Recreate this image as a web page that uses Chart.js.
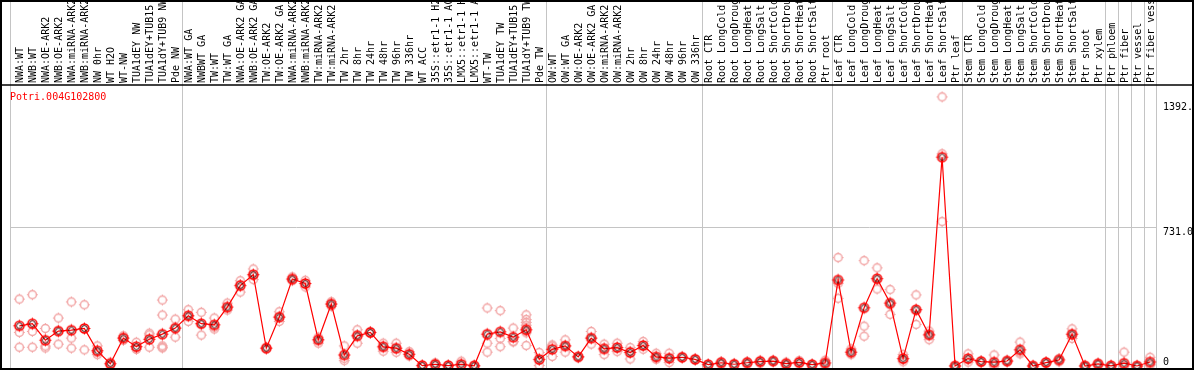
<!DOCTYPE html>
<html>
<head>
<meta charset="utf-8">
<script src="https://cdn.jsdelivr.net/npm/chart.js@4.4.1/dist/chart.umd.min.js"></script>
<style>
  html, body { margin: 0; padding: 0; background: #fff; }
  canvas { display: block; }
</style>
</head>
<body>
<canvas id="chart" width="1194" height="370"></canvas>
<script>
// nom du gène affiché dans le coin
const geneName = 'Potri.004G102800';

// échantillons (colonnes), dans l'ordre
const samples = [
  'NWA:WT', 'NWB:WT', 'NWA:OE-ARK2', 'NWB:OE-ARK2', 'NWA:miRNA-ARK2', 'NWB:miRNA-ARK2', 'NW 0hr', 'WT H2O', 'WT-NW',
  'TUA1dEY NW', 'TUA1dEY+TUB15 NW', 'TUA1dY+TUB9 NW', 'Pde NW',
  'NWA:WT GA', 'NWBWT GA', 'TW:WT', 'TW:WT GA', 'NWA:OE-ARK2 GA', 'NWB:OE-ARK2 GA', 'TW:OE-ARK2', 'TW:OE-ARK2 GA',
  'NWA:miRNA-ARK2 GA', 'NWB:miRNA-ARK2 GA', 'TW:miRNA-ARK2', 'TW:miRNA-ARK2 GA', 'TW 2hr', 'TW 8hr', 'TW 24hr', 'TW 48hr',
  'TW 96hr', 'TW 336hr', 'WT ACC', '35S::etr1-1 H2O', '35S::etr1-1 ACC', 'LMX5::etr1-1 H2O', 'LMX5::etr1-1 ACC',
  'WT-TW', 'TUA1dEY TW', 'TUA1dEY+TUB15 TW', 'TUA1dY+TUB9 TW', 'Pde TW',
  'OW:WT', 'OW:WT GA', 'OW:OE-ARK2', 'OW:OE-ARK2 GA', 'OW:miRNA-ARK2', 'OW:miRNA-ARK2 GA', 'OW 2hr', 'OW 8hr',
  'OW 24hr', 'OW 48hr', 'OW 96hr', 'OW 336hr',
  'Root CTR', 'Root LongCold', 'Root LongDrought', 'Root LongHeat', 'Root LongSalt', 'Root ShortCold',
  'Root ShortDrought', 'Root ShortHeat', 'Root ShortSalt', 'Ptr root',
  'Leaf CTR', 'Leaf LongCold', 'Leaf LongDrought', 'Leaf LongHeat', 'Leaf LongSalt', 'Leaf ShortCold',
  'Leaf ShortDrought', 'Leaf ShortHeat', 'Leaf ShortSalt', 'Ptr leaf',
  'Stem CTR', 'Stem LongCold', 'Stem LongDrought', 'Stem LongHeat', 'Stem LongSalt', 'Stem ShortCold',
  'Stem ShortDrought', 'Stem ShortHeat', 'Stem ShortSalt', 'Ptr shoot', 'Ptr xylem',
  'Ptr phloem', 'Ptr fiber', 'Ptr vessel', 'Ptr fiber vessel'
];

// taille de chaque groupe (séparateurs verticaux)
const groupSizes = [13, 28, 12, 10, 10, 11, 1, 1, 1, 1];

// expression moyenne par échantillon
const meanExpr = [
  212, 223, 136, 184, 189, 198, 80, 12, 147, 102, 141, 168, 200,
  265, 223, 217, 311, 424, 482, 94, 258, 459, 435, 138, 327, 58, 159, 177, 101, 94, 62, 2, 9, 2, 9, 1,
  168, 180, 152, 191, 35,
  88, 106, 48, 147, 90, 97, 71, 108, 48, 41, 46, 35,
  7, 17, 9, 17, 23, 26, 12, 19, 7, 16,
  454, 73, 307, 461, 332, 39, 297, 164, 1102, 0,
  39, 23, 20, 26, 85, 0, 18, 32, 168, 0, 11,
  1, 15, 0, 21
];

// réplicats par échantillon
const replicates = [
  [353, 177, 99], [376, 182, 99], [198, 105, 95], [253, 184, 115], [338, 147, 94], [323, 198, 85],
  [106, 72, 60], [20, 8, 5], [159, 150, 135], [125, 95, 87], [173, 164, 99], [348, 269, 106, 99, 95], [247, 200, 152],
  [297, 265, 235], [283, 223, 163], [253, 205, 195], [332, 306, 295], [450, 430, 390], [512, 480, 456],
  [98, 94, 90], [286, 258, 235], [470, 459, 450], [452, 435, 417], [152, 140, 120], [339, 327, 315],
  [106, 40, 28], [191, 165, 120], [182, 177, 172], [120, 105, 78], [120, 90, 72], [76, 60, 52],
  [4, 2, 0], [16, 8, 3], [4, 2, 0], [25, 3, 0], [2, 1, 0],
  [306, 120, 73], [292, 145, 102], [200, 129, 127], [270, 245, 230, 215, 200, 185, 175, 108], [71, 30, 3],
  [111, 105, 50], [138, 106, 73], [50, 48, 45], [182, 147, 115], [115, 95, 60], [120, 97, 76],
  [97, 78, 37], [129, 108, 88], [67, 45, 35], [67, 40, 18], [48, 46, 44], [37, 35, 33],
  [9, 7, 5], [24, 16, 8], [12, 9, 6], [24, 16, 10], [30, 23, 14], [29, 26, 23], [20, 10, 5], [28, 19, 10], [9, 7, 5], [30, 12, 5],
  [572, 435, 357], [90, 70, 60], [556, 210, 157], [518, 460, 406], [403, 322, 272], [60, 35, 22],
  [375, 297, 219], [184, 168, 139], [1420, 1120, 762], [2, 0, 0],
  [64, 35, 20], [28, 23, 18], [58, 10, 0], [30, 26, 22], [126, 70, 64], [1, 0, 0], [22, 18, 14],
  [40, 32, 22], [196, 165, 145], [1, 0, 0], [15, 11, 8],
  [2, 1, 0], [73, 2, 0], [1, 0, 0], [46, 10, 5]
];

// graduations de l'axe de droite
const yTickValues = [0, 731, 1392];
const yTickLabels = ['0', '731.0', '1392.'];

const monoFont = { family: '"DejaVu Sans Mono", monospace', size: 10 };

// petits cercles dessinés à la main pour les points
function makeMarker(color, inner, r) {
  const c = document.createElement('canvas');
  c.width = 15; c.height = 15;
  const g = c.getContext('2d');
  g.strokeStyle = color;
  g.lineWidth = 1.5;
  g.beginPath(); g.arc(7.5, 7.5, r, 0, Math.PI * 2); g.stroke();
  g.lineWidth = 1;
  g.beginPath();
  g.moveTo(7.5, 7.5 - r - 1.5); g.lineTo(7.5, 7.5 - r + 0.5);
  g.moveTo(7.5, 7.5 + r - 0.5); g.lineTo(7.5, 7.5 + r + 1.5);
  g.moveTo(7.5 - r - 1.5, 7.5); g.lineTo(7.5 - r + 0.5, 7.5);
  g.moveTo(7.5 + r - 0.5, 7.5); g.lineTo(7.5 + r + 1.5, 7.5);
  g.stroke();
  if (inner) {
    g.strokeStyle = inner;
    g.lineWidth = 1;
    g.beginPath(); g.arc(7.5, 7.5, r - 1.6, 0, Math.PI * 2); g.stroke();
  }
  return c;
}
const meanMarker = makeMarker('#ff0000', '#400000', 4.5);
const repMarker = makeMarker('#f2a6a6', null, 4);

// cadre, séparateurs de groupes, étiquettes de droite et nom du gène
const framePlugin = {
  id: 'frame',
  beforeDatasetsDraw(chart) {
    const { ctx, chartArea, scales } = chart;
    const x = scales.x;
    ctx.save();
    ctx.strokeStyle = '#c4c4c4';
    ctx.lineWidth = 1;
    const edges = [x.left];
    let k = 0;
    groupSizes.forEach(n => {
      k += n;
      edges.push(k >= samples.length ? x.right : x.getPixelForValue(k - 0.5));
    });
    edges.forEach(px => {
      const p = Math.round(px) + 0.5;
      ctx.beginPath();
      ctx.moveTo(p, 0);
      ctx.lineTo(p, chartArea.bottom);
      ctx.stroke();
    });
    ctx.restore();
  },
  afterDraw(chart) {
    const { ctx, chartArea, width, height, scales } = chart;
    ctx.save();
    ctx.strokeStyle = '#000';
    ctx.lineWidth = 1.5;
    ctx.beginPath();
    ctx.moveTo(0, chartArea.top);
    ctx.lineTo(width, chartArea.top);
    ctx.stroke();
    ctx.lineWidth = 2;
    ctx.strokeRect(1, 1, width - 2, height - 2);

    ctx.font = '10px "DejaVu Sans Mono", monospace';
    ctx.textBaseline = 'top';
    ctx.fillStyle = '#000';
    yTickValues.forEach((v, i) => {
      const py = Math.min(scales.y.getPixelForValue(v), chartArea.bottom - 12);
      ctx.fillText(yTickLabels[i], chartArea.right + 7, py);
    });

    ctx.fillStyle = '#ff0000';
    ctx.textBaseline = 'middle';
    ctx.fillText(geneName, chartArea.left, chartArea.top + 12);
    ctx.restore();
  }
};

// les axes ne doivent pas réserver de marge pour leurs étiquettes
function noPadding(s) {
  s.paddingTop = 0; s.paddingBottom = 0; s.paddingLeft = 0; s.paddingRight = 0;
}

const ctx = document.getElementById('chart').getContext('2d');
const myChart = new Chart(ctx, {
  type: 'line',
  data: {
    datasets: [
      {
        label: geneName,
        data: meanExpr.map((v, i) => ({ x: i, y: v })),
        borderColor: '#ff0000',
        borderWidth: 1.2,
        pointStyle: meanMarker,
        tension: 0,
        clip: false
      },
      {
        label: 'replicates',
        data: replicates.flatMap((r, i) => r.map(v => ({ x: i, y: v }))),
        showLine: false,
        pointStyle: repMarker,
        clip: false
      }
    ]
  },
  options: {
    responsive: false,
    devicePixelRatio: 1,
    animation: false,
    layout: { autoPadding: false, padding: { left: 10, right: 0, top: 0, bottom: 1 } },
    plugins: { legend: { display: false }, tooltip: { enabled: false } },
    scales: {
      x: {
        type: 'linear',
        position: 'top',
        min: -0.72,
        max: 87.46,
        grid: { display: false, drawTicks: false },
        border: { display: false },
        afterBuildTicks: s => { s.ticks = samples.map((_, i) => ({ value: i })); },
        afterFit: s => { s.height = 85; noPadding(s); },
        ticks: {
          autoSkip: false,
          minRotation: 90,
          maxRotation: 90,
          padding: 2,
          labelOffset: 13,
          color: '#000',
          font: monoFont,
          callback: (v, i) => samples[i]
        }
      },
      y: {
        position: 'right',
        min: -16,
        max: 1483,
        grid: {
          drawTicks: false,
          color: c => (c.tick && c.tick.value === yTickValues[1]) ? '#c4c4c4' : 'rgba(0,0,0,0)'
        },
        border: { display: false },
        afterBuildTicks: s => { s.ticks = yTickValues.map(v => ({ value: v })); },
        afterFit: s => { s.width = 38; noPadding(s); },
        ticks: { display: false }
      }
    }
  },
  plugins: [framePlugin]
});
</script>
</body>
</html>
